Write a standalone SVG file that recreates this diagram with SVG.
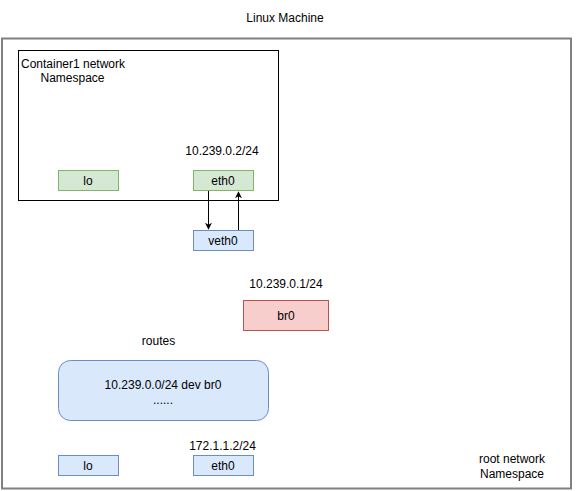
<svg xmlns="http://www.w3.org/2000/svg" width="579" height="491" viewBox="0 0 579 491">
<style>
text{font-family:"Liberation Sans",Arial,sans-serif;font-size:12px;fill:#000;text-anchor:middle}
.green{fill:#d5e8d4;stroke:#82b366;stroke-width:1}
.blue{fill:#dae8fc;stroke:#6c8ebf;stroke-width:1}
.red{fill:#f8cecc;stroke:#b85450;stroke-width:1}
.edge{stroke:#000;stroke-width:1;fill:none}
</style>
<defs>
<marker id="arr" viewBox="0 0 10 10" refX="9" refY="5" markerWidth="7" markerHeight="7" markerUnits="userSpaceOnUse" orient="auto">
<path d="M0,0 L10,5 L0,10 L3,5 Z" fill="#000"/>
</marker>
</defs>
<rect width="579" height="491" fill="#fff"/>
<g id="linux-machine">
<text x="285" y="22">Linux Machine</text>
<rect x="2" y="38.5" width="569" height="450" fill="#fff" stroke="#808080" stroke-width="2"/>
<text x="512" y="463">root network</text>
<text x="512" y="478">Namespace</text>
</g>
<g id="container-ns">
<rect x="18.5" y="50.5" width="260" height="150" fill="#fff" stroke="#000"/>
<text x="73" y="68">Container1 network</text>
<text x="72.5" y="82">Namespace</text>
<text x="222" y="155">10.239.0.2/24</text>
</g>
<g id="c-lo">
<rect class="green" x="58.5" y="170.5" width="60" height="20"/>
<text x="88" y="185">lo</text>
</g>
<g id="c-eth0">
<rect class="green" x="193.5" y="170.5" width="60" height="20"/>
<text x="223" y="185">eth0</text>
</g>
<g id="veth0">
<rect class="blue" x="193.5" y="230.5" width="60" height="20"/>
<text x="223" y="245">veth0</text>
</g>
<g id="br0">
<text x="286" y="288">10.239.0.1/24</text>
<rect class="red" x="243.5" y="300.5" width="85" height="30"/>
<text x="286" y="320">br0</text>
</g>
<g id="routes">
<text x="158.5" y="345">routes</text>
<rect class="blue" x="58.5" y="360.5" width="210" height="60" rx="12"/>
<text x="163" y="389">10.239.0.0/24 dev br0</text>
<text x="163" y="404">......</text>
</g>
<g id="r-lo">
<rect class="blue" x="58.5" y="455.5" width="60" height="20"/>
<text x="88" y="470">lo</text>
</g>
<g id="r-eth0">
<text x="222.5" y="450">172.1.1.2/24</text>
<rect class="blue" x="193.5" y="455.5" width="60" height="20"/>
<text x="223" y="470">eth0</text>
</g>
<g id="connectors">
<line class="edge" x1="208.5" y1="191" x2="208.5" y2="229" marker-end="url(#arr)"/>
<line class="edge" x1="238.5" y1="230" x2="238.5" y2="192" marker-end="url(#arr)"/>
</g>
</svg>
